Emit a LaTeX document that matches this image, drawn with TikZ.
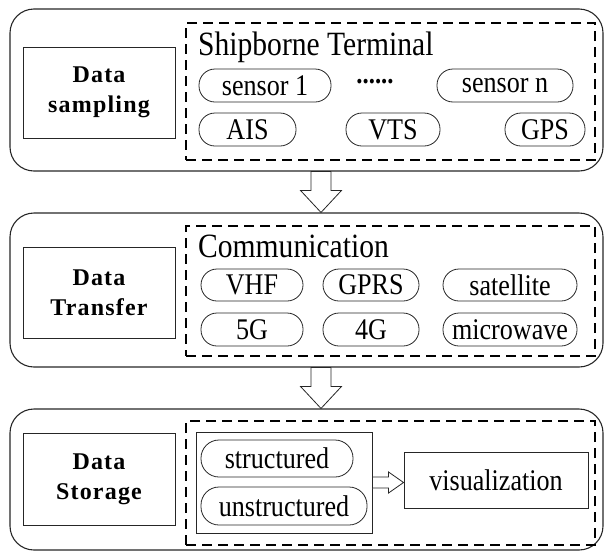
\documentclass[tikz,border=0pt]{standalone}
\usepackage{fontspec}
\setmainfont[FakeStretch=0.87]{Liberation Serif}
\newfontfamily\boldlab[LetterSpace=5]{Liberation Serif}
\usetikzlibrary{calc}
\begin{document}
\begin{tikzpicture}[x=1pt,y=-1pt,
  panel/.style={draw=black!85,line width=1.1pt,rounded corners=24pt,inner sep=0pt},
  stage/.style={draw=black!85,line width=0.9pt,inner sep=0pt,align=center,
    font=\boldlab\fontsize{24}{30}\selectfont\bfseries},
  group/.style={draw=black,line width=1.8pt,dash pattern=on 10pt off 6pt,inner sep=0pt},
  pill/.style={draw=black!85,line width=0.8pt,rounded corners=16pt,inner sep=0pt,
    font=\fontsize{30}{34}\selectfont},
  plain/.style={draw=black!85,line width=0.9pt,inner sep=0pt,font=\fontsize{30}{34}\selectfont},
  header/.style={inner sep=0pt,anchor=base west,font=\fontsize{34}{40}\selectfont},
  hollow/.style={draw=black!85,line width=0.8pt,fill=white,line join=miter}]
\useasboundingbox (0,0) rectangle (610,552);
% panels
\node[panel,minimum width=593pt,minimum height=162pt] (p1) at (306.5,90) {};
\node[panel,minimum width=593pt,minimum height=154pt] (p2) at (306.5,290) {};
\node[panel,minimum width=593pt,minimum height=141pt] (p3) at (306.5,479.5) {};
% stage boxes
\node[stage,minimum width=152pt,minimum height=91pt] (l1) at (99,92.5) {Data\\sampling};
\node[stage,minimum width=152pt,minimum height=91pt] (l2) at (99,292.5) {Data\\Transfer};
\node[stage,minimum width=152pt,minimum height=92pt] (l3) at (99,479) {Data\\Storage};
% dashed groups
\node[group,minimum width=409pt,minimum height=137pt] (d1) at (390.5,91.5) {};
\node[group,minimum width=409pt,minimum height=130pt] (d2) at (390.5,291) {};
\node[group,minimum width=409pt,minimum height=124pt] (d3) at (390.5,483) {};
% panel 1
\node[header] (h1) at (198,55) {Shipborne Terminal};
\node[pill,minimum width=132pt,minimum height=33pt] (s1) at (265,85.5) {sensor 1};
\node[inner sep=0pt,font=\fontsize{28.5}{32}\selectfont\bfseries] (dots) at (375,82) {......};
\node[pill,minimum width=136pt,minimum height=33pt] (sn) at (505,85.5) {sensor n};
\node[pill,minimum width=97pt,minimum height=33pt] (ais) at (247.5,129.5) {AIS};
\node[pill,minimum width=94pt,minimum height=33pt] (vts) at (393,129.5) {VTS};
\node[pill,minimum width=80pt,minimum height=33pt] (gps) at (545,129.5) {GPS};
% panel 2
\node[header] (h2) at (198,257) {Communication};
\node[pill,minimum width=102pt,minimum height=32pt] (vhf) at (252,285) {VHF};
\node[pill,minimum width=96pt,minimum height=32pt] (gprs) at (371,285) {GPRS};
\node[pill,minimum width=134pt,minimum height=32pt] (sat) at (510,285) {satellite};
\node[pill,minimum width=102pt,minimum height=33pt] (g5) at (252,329.5) {5G};
\node[pill,minimum width=96pt,minimum height=33pt] (g4) at (371,329.5) {4G};
\node[pill,minimum width=134pt,minimum height=33pt] (mw) at (510,329.5) {microwave};
% panel 3
\node[plain,minimum width=176pt,minimum height=101pt] (inner) at (284,482.5) {};
\node[pill,rounded corners=18pt,minimum width=152pt,minimum height=37pt] (st) at (277,458.5) {structured};
\node[pill,rounded corners=18pt,minimum width=166pt,minimum height=38pt] (ust) at (284,506) {unstructured};
\node[plain,minimum width=184pt,minimum height=56pt] (vis) at (496,480) {visualization};
% arrows
\coordinate (ax) at (321,0);
\coordinate (a1s) at (ax |- p1.south);
\coordinate (a1e) at (ax |- p2.north);
\coordinate (a2s) at (ax |- p2.south);
\coordinate (a2e) at (ax |- p3.north);
\draw[hollow] ($(a1s)+(-10,0)$) -- ($(a1s)+(10,0)$) -- ($(a1e)+(10,-22)$) -- ($(a1e)+(20.5,-22)$)
  -- (a1e) -- ($(a1e)+(-20.5,-22)$) -- ($(a1e)+(-10,-22)$) -- cycle;
\draw[hollow] ($(a2s)+(-10,0)$) -- ($(a2s)+(10,0)$) -- ($(a2e)+(10,-22)$) -- ($(a2e)+(20.5,-22)$)
  -- (a2e) -- ($(a2e)+(-20.5,-22)$) -- ($(a2e)+(-10,-22)$) -- cycle;
\coordinate (a3s) at (inner.east);
\coordinate (a3e) at (vis.west |- inner.east);
\draw[hollow] ($(a3s)+(0,-5.5)$) -- ($(a3s)+(0,5.5)$) -- ($(a3e)+(-15,5.5)$) -- ($(a3e)+(-15,10.5)$)
  -- (a3e) -- ($(a3e)+(-15,-10.5)$) -- ($(a3e)+(-15,-5.5)$) -- cycle;
\end{tikzpicture}
\end{document}
